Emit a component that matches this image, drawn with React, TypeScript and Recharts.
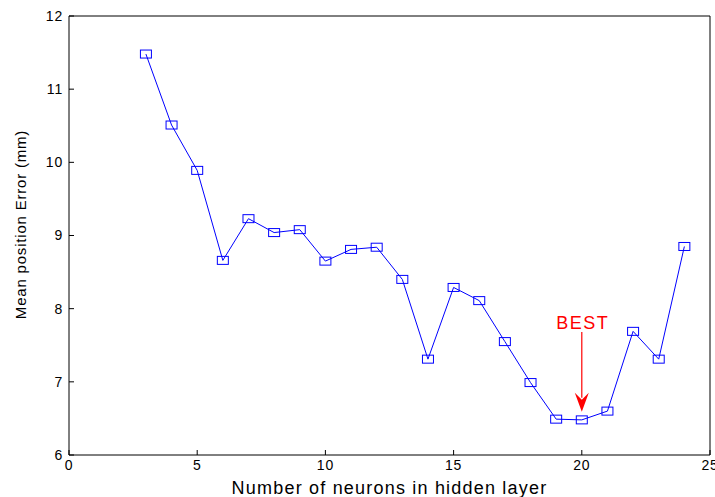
import React from 'react';
import {
  LineChart,
  Line,
  XAxis,
  YAxis,
  Label,
  ReferenceLine,
  ReferenceDot,
} from 'recharts';

const neurons = [3, 4, 5, 6, 7, 8, 9, 10, 11, 12, 13, 14, 15, 16, 17, 18, 19, 20, 21, 22, 23, 24];
const meanError = [
  11.48, 10.51, 9.89, 8.66, 9.23, 9.04, 9.08, 8.65, 8.81, 8.84, 8.4, 7.31, 8.29, 8.11, 7.55,
  6.99, 6.49, 6.48, 6.6, 7.69, 7.31, 8.85,
];
const xTicks = [0, 5, 10, 15, 20, 25];
const yTicks = [6, 7, 8, 9, 10, 11, 12];

const bestX = 20;
const arrowFrom = 7.68;
const arrowTo = 6.59;
const bestLabelY = 7.81;

const data = neurons.map((n, i) => ({ n, err: meanError[i] }));

const FONT = 'Arial, "Liberation Sans", sans-serif';
const tickStyle = { fontSize: 14, fill: '#000', fontFamily: FONT, letterSpacing: 0.8 };

const SquareDot = (p: any) => (
  <rect
    key={p.index}
    x={p.cx - 5.5}
    y={p.cy - 4}
    width={11}
    height={8}
    fill="none"
    stroke="#0000ff"
    strokeWidth={1}
  />
);

const Arrow = (p: any) => {
  const { x1, y1, x2, y2 } = p;
  return (
    <g>
      <line x1={x1} y1={y1} x2={x2} y2={y2 - 14} stroke="#ff0000" strokeWidth={1.2} />
      <polygon
        points={`${x2 - 7},${y2 - 19} ${x2},${y2 - 12} ${x2 + 7},${y2 - 19} ${x2},${y2}`}
        fill="#ff0000"
      />
    </g>
  );
};

export default function App() {
  return (
    <div style={{ position: 'absolute', left: 0, top: 0, background: '#fff' }}>
      <LineChart width={715} height={497} data={data} margin={{ top: 15, right: 4, bottom: 0, left: 0 }}>
        <XAxis
          dataKey="n"
          type="number"
          domain={[0, 25]}
          ticks={xTicks}
          height={42}
          tickSize={-5}
          tickMargin={10}
          stroke="#000"
          tick={tickStyle}
          interval={0}
        >
          <Label
            content={(props: any) => {
              const vb = props.viewBox;
              return (
                <text
                  x={vb.x + vb.width / 2}
                  y={vb.y + 39}
                  textAnchor="middle"
                  fontFamily={FONT}
                  fontSize={18}
                  letterSpacing={1.2}
                  fill="#000"
                >
                  Number of neurons in hidden layer
                </text>
              );
            }}
          />
        </XAxis>
        <XAxis
          xAxisId="top"
          orientation="top"
          dataKey="n"
          type="number"
          domain={[0, 25]}
          ticks={xTicks}
          height={1}
          tickSize={-5}
          stroke="#000"
          tick={false}
        />
        <YAxis
          type="number"
          domain={[6, 12]}
          ticks={yTicks}
          width={69}
          tickSize={-5}
          tickMargin={11}
          stroke="#000"
          tick={tickStyle}
          interval={0}
        >
          <Label
            content={(props: any) => {
              const vb = props.viewBox;
              const cx = 20;
              const cy = vb.y + vb.height / 2 - 11;
              return (
                <text
                  x={cx}
                  y={cy}
                  transform={`rotate(-90 ${cx} ${cy})`}
                  textAnchor="middle"
                  dominantBaseline="central"
                  fontFamily={FONT}
                  fontSize={15}
                  letterSpacing={0.8}
                  fill="#000"
                >
                  Mean position Error (mm)
                </text>
              );
            }}
          />
        </YAxis>
        <YAxis
          yAxisId="right"
          orientation="right"
          type="number"
          domain={[6, 12]}
          ticks={yTicks}
          width={1}
          tickSize={-5}
          stroke="#000"
          tick={false}
        />
        <Line
          dataKey="err"
          stroke="#0000ff"
          strokeWidth={1}
          dot={SquareDot}
          activeDot={false}
          isAnimationActive={false}
        />
        <ReferenceLine
          segment={[
            { x: bestX, y: arrowFrom },
            { x: bestX, y: arrowTo },
          ]}
          shape={Arrow}
        />
        <ReferenceDot
          x={bestX}
          y={bestLabelY}
          r={0}
          shape={(p: any) => (
            <text
              x={p.cx + 1}
              y={p.cy + 6}
              textAnchor="middle"
              fontFamily={FONT}
              fontSize={18}
              letterSpacing={1.5}
              fill="#ff0000"
            >
              BEST
            </text>
          )}
        />
      </LineChart>
    </div>
  );
}
